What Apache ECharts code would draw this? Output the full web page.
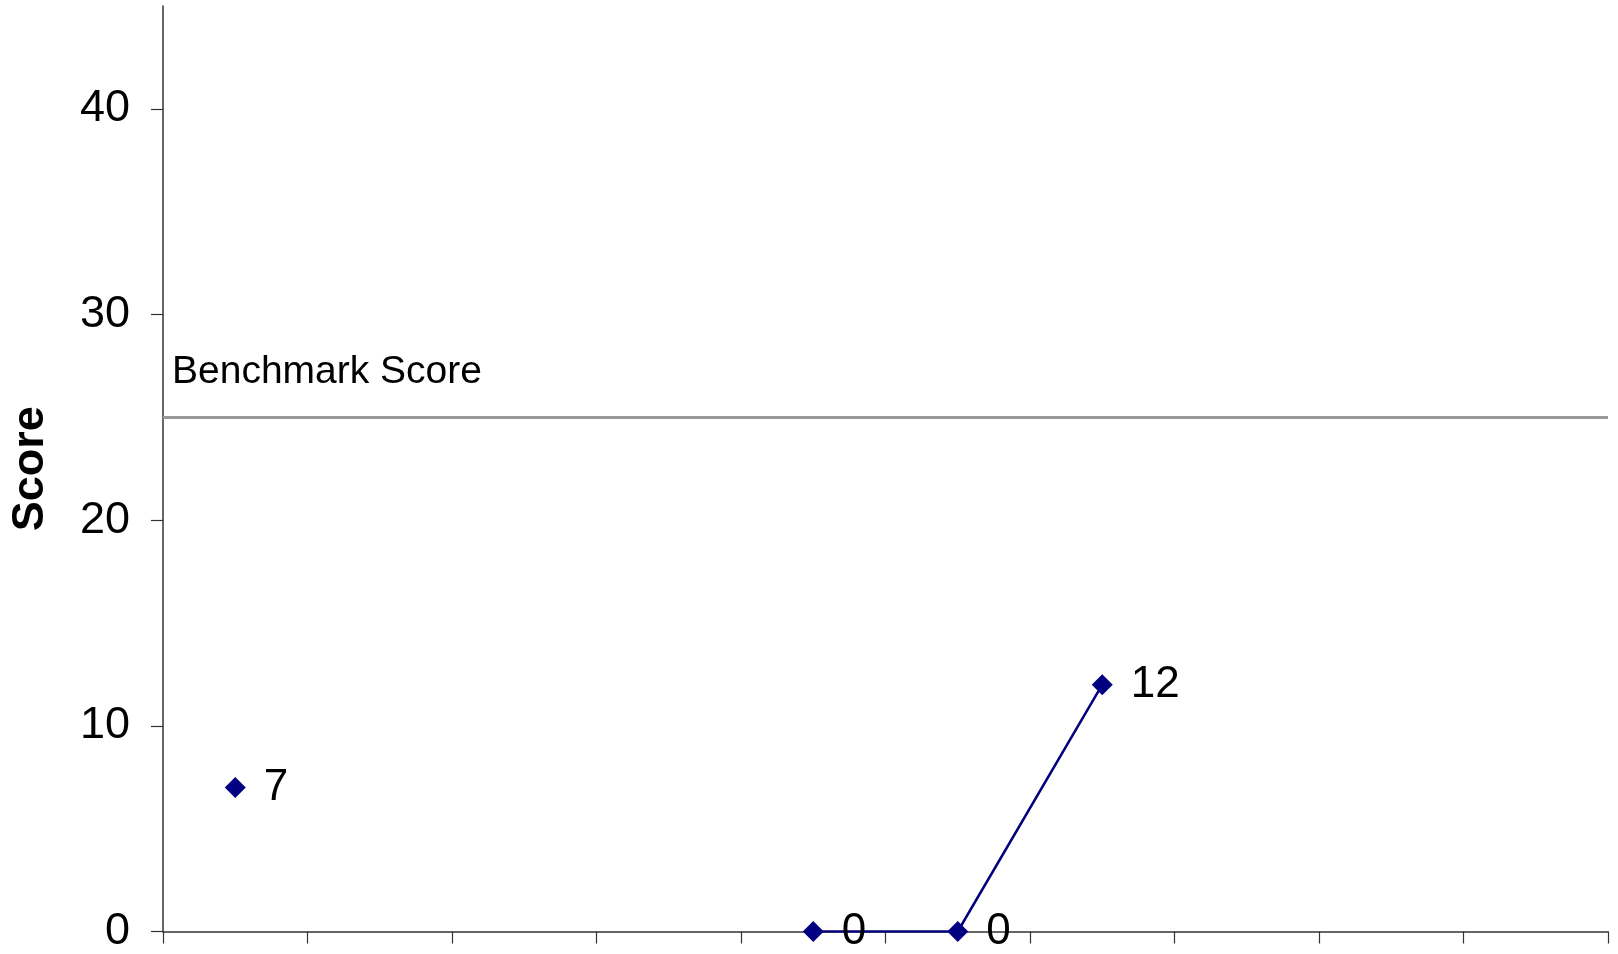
<!DOCTYPE html>
<html>
<head>
<meta charset="utf-8">
<style>
html,body{margin:0;padding:0;background:#fff;}
#chart{width:1618px;height:954px;}
</style>
<script src="https://cdn.jsdelivr.net/npm/echarts@6/dist/echarts.min.js"></script>
</head>
<body>
<div id="chart"></div>
<script>
const categories = ['1','2','3','4','5','6','7','8','9','10'];
const scores = [7, null, null, null, 0, 0, 12, null, null, null];
const benchmark = 25;
const benchmarkLabel = 'Benchmark Score';
const yTicks = [0, 10, 20, 30, 40];
const yName = 'Score';

const chart = echarts.init(document.getElementById('chart'));
const font = 'Liberation Sans, Arial, sans-serif';
chart.setOption({
  animation: false,
  grid: {left: 162, right: 10, top: 6, bottom: 19, containLabel: false},
  xAxis: {
    type: 'category',
    data: categories,
    boundaryGap: true,
    axisLine: {lineStyle: {color: '#333', width: 1.5}},
    axisTick: {show: true, inside: false, length: 12, lineStyle: {color: '#333', width: 1.2}},
    axisLabel: {show: false},
    splitLine: {show: false}
  },
  yAxis: {
    type: 'value',
    min: 0, max: 45, interval: 10,
    name: yName,
    nameLocation: 'middle',
    nameGap: 110,
    nameTextStyle: {fontFamily: font, fontSize: 45, fontWeight: 'bold', color: '#000'},
    axisLine: {show: true, lineStyle: {color: '#333', width: 1.5}},
    axisTick: {show: true, inside: false, length: 12, customValues: yTicks, lineStyle: {color: '#333', width: 1.2}},
    axisLabel: {customValues: yTicks, fontFamily: font, fontSize: 45, color: '#000', margin: 33},
    splitLine: {show: false}
  },
  series: [{
    type: 'line',
    data: scores,
    connectNulls: false,
    symbol: 'diamond',
    symbolSize: 21,
    showAllSymbol: true,
    lineStyle: {color: '#000080', width: 2.5},
    itemStyle: {color: '#000080'},
    label: {show: true, position: 'right', distance: 18, fontFamily: font, fontSize: 44, color: '#000'},
    markLine: {
      silent: true,
      symbol: ['none', 'none'],
      data: [{yAxis: benchmark}],
      lineStyle: {color: '#999', width: 3, type: 'solid'},
      label: {show: true, position: 'insideStartTop', formatter: benchmarkLabel, fontFamily: font, fontSize: 39, color: '#000', distance: [9, 26]}
    }
  }]
});
</script>
</body>
</html>
